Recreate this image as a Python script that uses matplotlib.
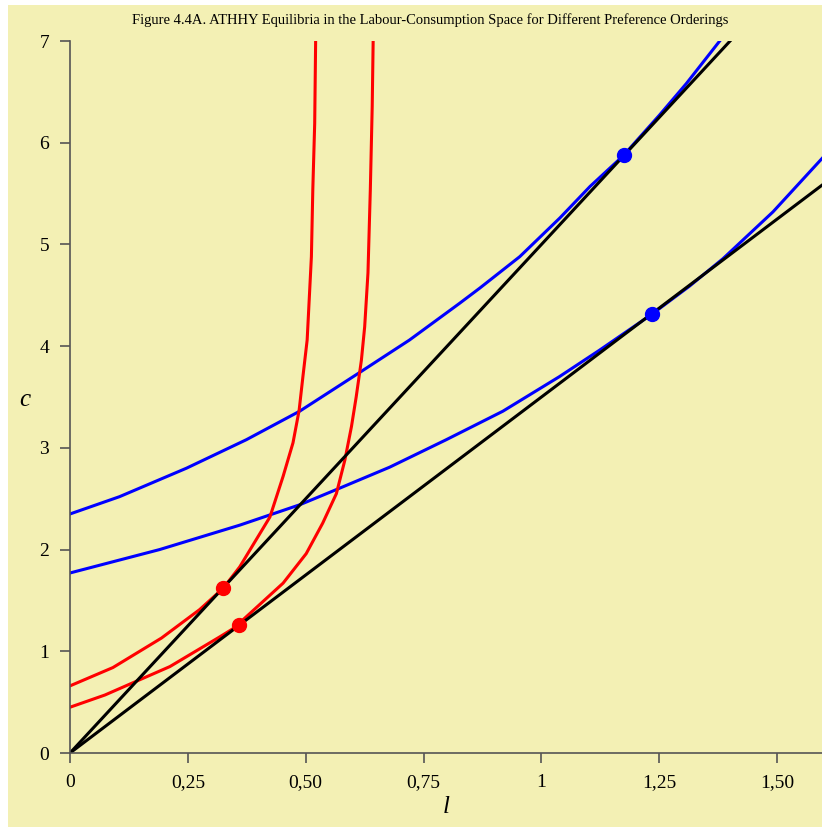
import matplotlib.pyplot as plt
from matplotlib.patches import Rectangle

# 曲線資料 (l, c)
blue_hi_l = [0, 0.105, 0.247, 0.374, 0.487, 0.614, 0.72, 0.826, 0.869, 0.954, 1.039, 1.103, 1.173, 1.25, 1.307, 1.378]
blue_hi_c = [2.35, 2.52, 2.80, 3.08, 3.36, 3.74, 4.06, 4.42, 4.57, 4.88, 5.26, 5.57, 5.87, 6.27, 6.58, 7.0]
blue_lo_l = [0, 0.19, 0.36, 0.487, 0.565, 0.678, 0.798, 0.918, 1.038, 1.123, 1.233, 1.314, 1.385, 1.491, 1.596]
blue_lo_c = [1.77, 2.0, 2.24, 2.44, 2.59, 2.81, 3.08, 3.36, 3.70, 3.96, 4.31, 4.59, 4.86, 5.32, 5.85]
red_in_l = [0, 0.091, 0.194, 0.275, 0.325, 0.36, 0.424, 0.452, 0.473, 0.486, 0.494, 0.503, 0.512, 0.515, 0.519, 0.521]
red_in_c = [0.66, 0.84, 1.13, 1.41, 1.62, 1.83, 2.32, 2.72, 3.05, 3.37, 3.70, 4.06, 4.88, 5.54, 6.19, 7.0]
red_out_l = [0, 0.074, 0.212, 0.317, 0.359, 0.367, 0.452, 0.501, 0.536, 0.565, 0.583, 0.597, 0.607, 0.618, 0.625, 0.632, 0.637, 0.641, 0.643]
red_out_c = [0.45, 0.57, 0.85, 1.14, 1.26, 1.31, 1.67, 1.96, 2.26, 2.55, 2.88, 3.21, 3.50, 3.86, 4.19, 4.72, 5.54, 6.36, 7.0]
# 預算線
line1_l = [0, 1.4]
line1_c = [0, 7.0]
line2_l = [0, 1.6]
line2_c = [0, 5.6]
# 均衡點
red_pts_l = [0.325, 0.359]
red_pts_c = [1.625, 1.257]
blue_pts_l = [1.175, 1.235]
blue_pts_c = [5.875, 4.32]

xticks = [0, 0.25, 0.5, 0.75, 1, 1.25, 1.5]
xticklabels = ['0', '0,25', '0,50', '0,75', '1', '1,25', '1,50']
yticks = [0, 1, 2, 3, 4, 5, 6, 7]

bg = '#F3F0B4'
plt.rcParams['font.family'] = ['Liberation Serif', 'DejaVu Serif']

fig = plt.figure(figsize=(8.22, 8.27), dpi=100, facecolor='white')
fig.patches.append(Rectangle((8 / 822, 0), 1, 1 - 5 / 827, transform=fig.transFigure,
                             facecolor=bg, edgecolor='none', zorder=-10))
ax = fig.add_axes([70 / 822, 74 / 827, 752 / 822, 712 / 827])
ax.set_facecolor(bg)

ax.plot(line1_l, line1_c, color='black', lw=2.2, zorder=2)
ax.plot(line2_l, line2_c, color='black', lw=2.2, zorder=2)
ax.plot(blue_hi_l, blue_hi_c, color='blue', lw=2.2, zorder=1)
ax.plot(blue_lo_l, blue_lo_c, color='blue', lw=2.2, zorder=1)
ax.plot(red_in_l, red_in_c, color='red', lw=2.2, zorder=1)
ax.plot(red_out_l, red_out_c, color='red', lw=2.2, zorder=1)
ax.plot(red_pts_l, red_pts_c, 'o', color='red', ms=10, zorder=3)
ax.plot(blue_pts_l, blue_pts_c, 'o', color='blue', ms=10, zorder=3)

ax.set_xlim(0, 1.595)
ax.set_ylim(0, 7)
ax.set_xticks(xticks)
ax.set_xticklabels(xticklabels)
ax.set_yticks(yticks)
ax.tick_params(direction='out', length=7, width=1.2, color='#555555', labelsize=14, pad=8)
for s in ['top', 'right']:
    ax.spines[s].set_visible(False)
for s in ['left', 'bottom']:
    ax.spines[s].set_color('#555555')
    ax.spines[s].set_linewidth(1.2)

ax.set_xlabel('l', fontsize=18, style='italic', labelpad=4)
ax.set_ylabel('c', fontsize=18, style='italic', rotation=0, va='center')
ax.yaxis.set_label_coords(-0.06, 0.496)
fig.text(430 / 822, 1 - 20 / 827, 'Figure 4.4A. ATHHY Equilibria in the Labour-Consumption Space for Different Preference Orderings',
         ha='center', va='center', fontsize=10.5)

fig.savefig('out.png', dpi=100, facecolor='white')
